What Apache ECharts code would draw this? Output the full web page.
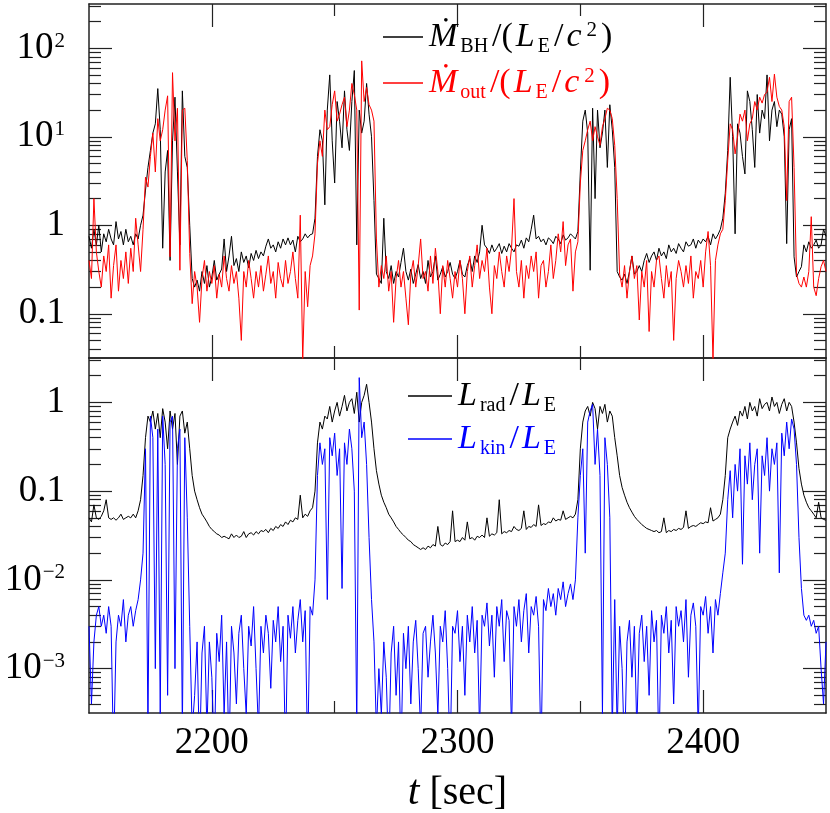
<!DOCTYPE html>
<html><head><meta charset="utf-8">
<script src="https://cdn.jsdelivr.net/npm/echarts@6/dist/echarts.min.js"></script>
<style>html,body{margin:0;padding:0;background:#fff}#c{width:830px;height:813px}</style>
</head><body><div id="c"></div><script>
// sampling grid: one sample per second starting at t = 2150 s
const tStart = 2150, tStep = 1;

// accretion rate onto BH, Mdot_BH/(L_E/c^2)  (rows = decades from 2150)
const mdotBH = [
0.75,0.55,0.9,0.6,1.0,0.5,0.8,0.65,0.9,0.7,
0.6,1.1,0.7,0.85,0.6,0.9,0.65,0.75,0.6,0.8,
0.7,1.0,1.3,2.5,4.5,7,11,14,35,12,
0.55,4,7,0.4,9,28,4,0.6,33,6,
4.5,1.0,0.25,0.2,0.24,0.18,0.3,0.22,0.35,0.2,
0.26,0.4,0.24,0.28,0.32,0.7,0.3,0.45,0.75,0.35,
0.42,0.3,0.5,0.38,0.45,0.33,0.48,0.4,0.52,0.42,
0.5,0.45,0.58,0.7,0.55,0.6,0.5,0.65,0.55,0.7,
0.6,0.72,0.6,0.68,0.5,0.75,0.65,0.7,0.8,0.72,
0.78,0.8,1.2,6,12,9,1.7,20,50,9,
3,25,15,7.5,33,12,7,25,56,0.6,
20,11,15,40,18,10,1.9,0.28,0.25,0.22,
1.2,0.3,0.25,0.35,0.22,0.3,0.26,0.38,0.55,0.3,
0.24,0.32,0.22,0.28,0.36,0.25,0.3,0.22,0.4,0.26,
0.3,0.45,0.24,0.28,0.34,0.26,0.3,0.38,0.28,0.25,
0.3,0.4,0.28,0.26,0.35,0.42,0.3,0.45,0.38,0.5,
1.0,0.6,0.55,0.48,0.6,0.5,0.55,0.62,0.48,0.58,
0.5,0.62,0.55,0.5,0.6,0.58,0.68,0.55,0.72,0.65,
0.9,1.3,0.7,0.75,0.65,0.7,0.6,0.72,0.68,0.62,
0.75,0.7,0.62,0.78,0.68,0.72,0.8,0.75,0.7,0.85,
4,15,20,11,0.31,21,2,20,7.5,11,
20,4.5,23,12,4.5,0.3,0.26,0.24,0.28,0.22,
0.3,0.45,0.28,0.3,0.35,0.3,0.4,0.48,0.38,0.45,
0.5,0.4,0.55,0.45,0.5,0.42,0.6,0.5,0.55,0.48,
0.62,0.55,0.5,0.65,0.58,0.6,0.7,0.55,0.68,0.62,
0.7,0.65,0.75,0.6,0.8,0.7,0.78,0.9,1.2,2.3,
7,47,10,0.8,14,11,6,3.8,33,25,
12,4.5,30,11,20,16,50,9,20,25,
13,20,18,10,0.62,12,16,0.44,0.26,0.3,
0.34,0.6,0.5,0.65,0.55,0.6,0.68,0.55,0.6,0.9,
0.75];

// outflow rate, Mdot_out/(L_E/c^2)
const mdotOut = [
0.4,0.25,2.0,0.5,0.3,0.2,0.45,0.3,0.6,0.15,
0.35,0.6,0.18,0.4,0.25,0.5,0.22,0.55,0.3,1.2,
0.6,0.3,0.9,3.5,2.7,6,11,4,16,9,
12,20,29,0.44,53,9,21,0.31,20,21,
5.4,0.48,0.13,0.3,0.2,0.08,0.25,0.4,0.18,0.3,
0.22,0.35,0.15,0.28,0.2,0.45,0.25,0.18,0.35,0.22,
0.3,0.15,0.05,0.3,0.2,0.4,0.25,0.15,0.3,0.2,
0.35,0.18,0.28,0.45,0.22,0.3,0.15,0.38,0.25,0.2,
0.4,0.22,0.3,0.5,0.25,0.15,1.3,0.03,0.3,0.12,
0.35,0.45,0.8,5,9,6,20,12,13,23,
33,15,18,23,28,13,20,40,30,20,
0.11,72,25,36,23,20,15,0.7,0.2,0.35,
0.25,0.45,0.18,0.3,0.08,0.25,0.4,0.2,0.3,0.15,
0.075,0.28,0.4,0.2,0.35,0.7,0.25,0.3,0.18,0.45,
0.22,0.55,0.3,0.1,0.35,0.2,0.4,0.25,0.15,0.3,
0.2,0.4,0.25,0.1,0.3,0.45,0.2,0.35,0.6,0.25,
0.4,0.3,0.55,0.2,0.1,0.35,0.25,0.5,0.3,0.2,
0.45,0.3,0.55,2.0,0.3,0.2,0.4,0.15,0.35,0.25,
0.45,0.3,0.5,0.15,0.35,0.4,0.2,0.3,0.6,0.25,
0.4,0.8,0.5,1.1,0.35,0.6,0.7,0.18,0.5,0.65,
3,7,9,12,15,9,13,10,8,13,
16,21,20,16,8,2,0.28,0.2,0.35,0.15,
0.3,0.45,0.25,0.35,0.085,0.3,0.2,0.4,0.063,0.3,
0.2,0.4,0.45,0.25,0.15,0.35,0.2,0.3,0.05,0.25,
0.4,0.3,0.2,0.35,0.22,0.45,0.15,0.3,0.25,0.4,
0.2,0.5,0.85,0.35,0.03,0.4,0.6,0.8,0.9,1.9,
5.4,14,12,6.4,10,18,15,20,9,14,
16,25,20,28,24,30,32,47,25,51,
28,22,20,13,1.9,25,28,4.5,0.28,0.22,
0.2,0.26,0.2,0.3,1.25,0.2,0.16,0.25,0.34,0.4,
0.3];

// radiative luminosity, L_rad/L_E
const lRad = [
0.05,0.045,0.07,0.05,0.048,0.052,0.06,0.08,0.05,0.048,
0.05,0.047,0.05,0.055,0.048,0.05,0.052,0.05,0.055,0.05,
0.06,0.08,0.15,0.4,0.7,0.6,0.8,0.5,0.75,0.4,
0.85,0.6,0.3,0.8,0.5,0.75,0.2,0.7,0.8,0.45,
0.6,0.3,0.15,0.1,0.08,0.065,0.055,0.05,0.045,0.04,
0.037,0.035,0.033,0.032,0.03,0.031,0.03,0.029,0.033,0.03,
0.032,0.03,0.031,0.035,0.03,0.033,0.034,0.032,0.035,0.033,
0.036,0.035,0.037,0.034,0.038,0.036,0.04,0.038,0.042,0.04,
0.045,0.042,0.047,0.045,0.05,0.048,0.09,0.05,0.055,0.052,
0.06,0.065,0.1,0.35,0.6,0.5,0.7,0.65,0.9,0.6,
0.8,1.0,0.7,0.9,1.2,0.8,1.0,1.1,0.75,1.3,
0.6,1.0,1.2,1.6,1.0,0.6,0.3,0.17,0.12,0.09,
0.075,0.065,0.055,0.05,0.045,0.04,0.037,0.034,0.032,0.03,
0.028,0.027,0.025,0.024,0.023,0.022,0.023,0.022,0.024,0.023,
0.025,0.024,0.04,0.025,0.024,0.026,0.025,0.027,0.06,0.027,
0.028,0.027,0.03,0.028,0.045,0.029,0.03,0.028,0.031,0.03,
0.032,0.03,0.05,0.031,0.033,0.032,0.034,0.08,0.033,0.035,
0.034,0.036,0.035,0.04,0.037,0.036,0.038,0.06,0.037,0.04,
0.039,0.042,0.04,0.07,0.041,0.043,0.042,0.045,0.044,0.05,
0.046,0.048,0.047,0.06,0.048,0.05,0.052,0.05,0.055,0.08,
0.3,0.6,0.8,0.9,0.7,1.0,0.85,0.5,0.9,0.75,
0.95,0.6,0.8,0.7,0.4,0.25,0.15,0.11,0.09,0.075,
0.065,0.058,0.052,0.048,0.045,0.042,0.04,0.038,0.037,0.036,
0.035,0.036,0.034,0.035,0.05,0.034,0.036,0.035,0.037,0.036,
0.038,0.037,0.039,0.06,0.038,0.04,0.041,0.04,0.042,0.044,
0.043,0.045,0.044,0.065,0.046,0.048,0.05,0.055,0.08,0.15,
0.4,0.5,0.6,0.7,0.55,0.8,0.7,0.9,0.65,1.0,
0.8,0.9,0.7,1.1,0.85,0.95,1.0,0.8,1.15,0.9,
1.0,0.75,0.95,1.1,0.8,1.0,0.9,0.6,0.35,0.18,
0.12,0.09,0.075,0.065,0.06,0.055,0.05,0.075,0.05,0.048,
0.047];

// kinetic luminosity, L_kin/L_E
const lKin = [
0.003,0.0004,0.002,0.004,0.005,0.003,0.004,0.0025,0.005,0.003,
0.0001,0.002,0.004,0.003,0.006,0.002,0.004,0.005,0.003,0.0045,
0.006,0.01,0.02,0.3,0.0002,0.7,0.4,0.001,0.5,0.0003,
0.7,0.2,0.0005,0.6,0.7,0.001,0.3,0.5,0.0002,0.4,
0.05,0.003,0.0002,0.0005,0.002,0.0001,0.0015,0.003,0.0002,0.002,
0.0008,0.0001,0.0025,0.0012,0.004,0.0003,0.002,0.0001,0.003,0.0015,
0.0004,0.0025,0.004,0.001,0.0003,0.003,0.0018,0.005,0.001,0.0002,
0.003,0.0015,0.004,0.0025,0.0006,0.0035,0.002,0.005,0.0012,0.003,
0.0001,0.004,0.0022,0.005,0.0015,0.0035,0.006,0.002,0.0045,0.0001,
0.005,0.004,0.01,0.15,0.35,0.2,0.3,0.006,0.4,0.25,
0.45,0.15,0.3,0.008,0.35,0.2,0.5,0.3,0.1,0.0002,
1.9,0.4,0.6,0.2,0.03,0.006,0.002,0.0002,0.001,0.0003,
0.002,0.0008,0.0001,0.0015,0.003,0.0005,0.002,0.0001,0.0025,0.001,
0.003,0.0004,0.002,0.0035,0.001,0.0002,0.0025,0.003,0.0008,0.002,
0.004,0.0015,0.0003,0.003,0.002,0.0045,0.001,0.0001,0.003,0.0025,
0.0045,0.0012,0.003,0.0005,0.004,0.002,0.005,0.0015,0.0035,0.0002,
0.004,0.003,0.0055,0.0018,0.004,0.0008,0.005,0.003,0.006,0.0012,
0.0045,0.0035,0.0002,0.005,0.003,0.006,0.002,0.0045,0.007,0.0015,
0.005,0.004,0.0065,0.003,0.0001,0.006,0.0045,0.008,0.005,0.007,
0.004,0.008,0.006,0.0095,0.005,0.007,0.009,0.006,0.01,0.05,
0.15,0.3,0.02,0.6,0.8,0.95,0.2,0.5,0.15,0.0003,
0.4,0.2,0.05,0.0002,0.006,0.0002,0.003,0.001,0.0001,0.002,
0.0035,0.0008,0.003,0.0002,0.0025,0.004,0.0012,0.003,0.0005,0.0045,
0.002,0.0035,0.0001,0.004,0.0025,0.005,0.0015,0.0035,0.0004,0.005,
0.003,0.0045,0.002,0.006,0.0008,0.004,0.0055,0.003,0.0002,0.005,
0.004,0.0065,0.0025,0.005,0.0015,0.006,0.004,0.007,0.012,0.02,
0.08,0.17,0.05,0.2,0.1,0.3,0.015,0.25,0.12,0.35,
0.08,0.2,0.3,0.02,0.25,0.15,0.4,0.1,0.3,0.2,
0.35,0.012,0.45,0.25,0.6,0.3,0.65,0.5,0.2,0.03,
0.008,0.004,0.0035,0.004,0.003,0.0035,0.0025,0.003,0.001,0.0004,
0.002];

// axis ranges and ticks
const tMin = 2150, tMax = 2450;
const xMajor = [2200, 2300, 2400];
const xMinor = [2250, 2350];
const xLabels = [2200, 2300, 2400];
const topMin = Math.pow(10, -1.5), topMax = Math.pow(10, 2.5);
const botMin = Math.pow(10, -3.5), botMax = Math.pow(10, 0.5);
const topMajor = [0.1, 1, 10, 100];
const topMinor = [0.04,0.05,0.06,0.07,0.08,0.09,0.2,0.3,0.4,0.5,0.6,0.7,0.8,0.9,2,3,4,5,6,7,8,9,20,30,40,50,60,70,80,90,200,300];
const botMajor = [0.001, 0.01, 0.1, 1];
const botMinor = [0.0004,0.0005,0.0006,0.0007,0.0008,0.0009,0.002,0.003,0.004,0.005,0.006,0.007,0.008,0.009,0.02,0.03,0.04,0.05,0.06,0.07,0.08,0.09,0.2,0.3,0.4,0.5,0.6,0.7,0.8,0.9,2,3];
const yLabelText = {'-3':'{b|10}{s|−3}', '-2':'{b|10}{s|−2}', '-1':'{b|0.1}', '0':'{b|1}', '1':'{b|10}{s|1}', '2':'{b|10}{s|2}'};

const FONT = 'Liberation Serif';
const AXC = '#222';
const times = mdotBH.map((_, i) => tStart + i * tStep);

function xAx(gridIndex, position, ticks, len, showLine, extra) {
  return Object.assign({
    type: 'value', gridIndex, position, min: tMin, max: tMax,
    axisLine: {show: showLine, onZero: false, lineStyle: {color: AXC, width: 1.5}},
    axisTick: {show: true, inside: true, length: len, customValues: ticks, lineStyle: {color: AXC, width: 1.2}},
    axisLabel: {show: false},
    splitLine: {show: false}
  }, extra || {});
}
function yAx(gridIndex, position, min, max, ticks, len, showLine, extra) {
  return Object.assign({
    type: 'log', logBase: 10, gridIndex, position, min, max,
    axisLine: {show: showLine, onZero: false, lineStyle: {color: AXC, width: 1.5}},
    axisTick: {show: true, inside: true, length: len, customValues: ticks, lineStyle: {color: AXC, width: 1.2}},
    axisLabel: {show: false},
    splitLine: {show: false}
  }, extra || {});
}
function yLab(vals) {
  return {axisLabel: {
    show: true, customValues: vals, margin: 24, color: '#000',
    fontFamily: FONT, fontSize: 37,
    formatter: v => yLabelText[String(Math.round(Math.log10(v)))],
    rich: {
      b: {fontFamily: FONT, fontSize: 37, lineHeight: 34, color: '#000'},
      s: {fontFamily: FONT, fontSize: 21, lineHeight: 21, padding: [0, 0, 14, 1], color: '#000'}
    }
  }};
}

const legRich = {
  it: {fontFamily: FONT, fontStyle: 'italic', fontSize: 34, lineHeight: 36, padding: [0, 2, 0, 1]},
  n: {fontFamily: FONT, fontSize: 34, lineHeight: 36, padding: [0, 2, 0, 2]},
  sb: {fontFamily: FONT, fontSize: 20, lineHeight: 20, padding: [20, 2, 0, 1]},
  sp: {fontFamily: FONT, fontSize: 21, lineHeight: 21, padding: [0, 2, 14, 3]}
};
const legendText = {
  mbh: '{it|Ṁ}{sb|BH}{n|/(}{it|L}{sb|E}{n|/}{it|c}{sp|2}{n|)}',
  mout: '{it|Ṁ}{sb|out}{n|/(}{it|L}{sb|E}{n|/}{it|c}{sp|2}{n|)}',
  lrad: '{it|L}{sb|rad}{n|/}{it|L}{sb|E}',
  lkin: '{it|L}{sb|kin}{n|/}{it|L}{sb|E}'
};

const option = {
  animation: false,
  backgroundColor: '#fff',
  grid: [
    {left: 89, right: 4, top: 4, height: 354, containLabel: false, outerBoundsMode: 'none'},
    {left: 89, right: 4, top: 358, height: 355, containLabel: false, outerBoundsMode: 'none'}
  ],
  xAxis: [
    xAx(0, 'bottom', xMajor, 23, true),
    xAx(0, 'bottom', xMinor, 12, false),
    xAx(0, 'top', xMajor, 23, true),
    xAx(0, 'top', xMinor, 12, false),
    xAx(1, 'bottom', xMajor, 23, true, {
      axisLabel: {show: true, customValues: xLabels, margin: 12, color: '#000', fontFamily: FONT, fontSize: 37,
                  formatter: v => String(v)},
      name: '{i|t}{n|[sec]}', nameLocation: 'middle', nameGap: 59,
      nameTextStyle: {rich: {
        i: {fontFamily: FONT, fontStyle: 'italic', fontSize: 42, lineHeight: 42, color: '#000', padding: [0, 10, 0, 0]},
        n: {fontFamily: FONT, fontSize: 40, lineHeight: 42, color: '#000'}
      }}
    }),
    xAx(1, 'bottom', xMinor, 12, false),
    xAx(1, 'top', xMajor, 23, true),
    xAx(1, 'top', xMinor, 12, false)
  ],
  yAxis: [
    yAx(0, 'left', topMin, topMax, topMajor, 23, true, yLab(topMajor)),
    yAx(0, 'left', topMin, topMax, topMinor, 12, false),
    yAx(0, 'right', topMin, topMax, topMajor, 23, true),
    yAx(0, 'right', topMin, topMax, topMinor, 12, false),
    yAx(1, 'left', botMin, botMax, botMajor, 23, true, yLab(botMajor)),
    yAx(1, 'left', botMin, botMax, botMinor, 12, false),
    yAx(1, 'right', botMin, botMax, botMajor, 23, true),
    yAx(1, 'right', botMin, botMax, botMinor, 12, false)
  ],
  legend: [
    {data: [{name: 'mbh', textStyle: {color: '#000'}}, {name: 'mout', textStyle: {color: '#ff0000'}}],
     orient: 'vertical', left: 383, top: 17, padding: 0, itemGap: 6, itemWidth: 40, itemHeight: 1.4,
     icon: 'rect', selectedMode: false, formatter: n => legendText[n],
     textStyle: {fontFamily: FONT, fontSize: 34, rich: legRich}},
    {data: [{name: 'lrad', textStyle: {color: '#000'}}, {name: 'lkin', textStyle: {color: '#0000ff'}}],
     orient: 'vertical', left: 408, top: 376, padding: 0, itemGap: 3, itemWidth: 44, itemHeight: 1.4,
     icon: 'rect', selectedMode: false, formatter: n => legendText[n],
     textStyle: {fontFamily: FONT, fontSize: 34, rich: legRich}}
  ],
  series: [
    {name: 'mbh', type: 'line', xAxisIndex: 0, yAxisIndex: 0, showSymbol: false, symbol: 'none',
     lineStyle: {color: '#000', width: 1}, itemStyle: {color: '#000'},
     data: times.map((t, i) => [t, mdotBH[i]])},
    {name: 'mout', type: 'line', xAxisIndex: 0, yAxisIndex: 0, showSymbol: false, symbol: 'none',
     lineStyle: {color: '#ff0000', width: 1}, itemStyle: {color: '#ff0000'},
     data: times.map((t, i) => [t, mdotOut[i]])},
    {name: 'lrad', type: 'line', xAxisIndex: 4, yAxisIndex: 4, showSymbol: false, symbol: 'none',
     lineStyle: {color: '#000', width: 1}, itemStyle: {color: '#000'},
     data: times.map((t, i) => [t, lRad[i]])},
    {name: 'lkin', type: 'line', xAxisIndex: 4, yAxisIndex: 4, showSymbol: false, symbol: 'none',
     lineStyle: {color: '#0000ff', width: 1}, itemStyle: {color: '#0000ff'},
     data: times.map((t, i) => [t, lKin[i]])}
  ]
};
const chart = echarts.init(document.getElementById('c'));
chart.setOption(option);
</script></body></html>
